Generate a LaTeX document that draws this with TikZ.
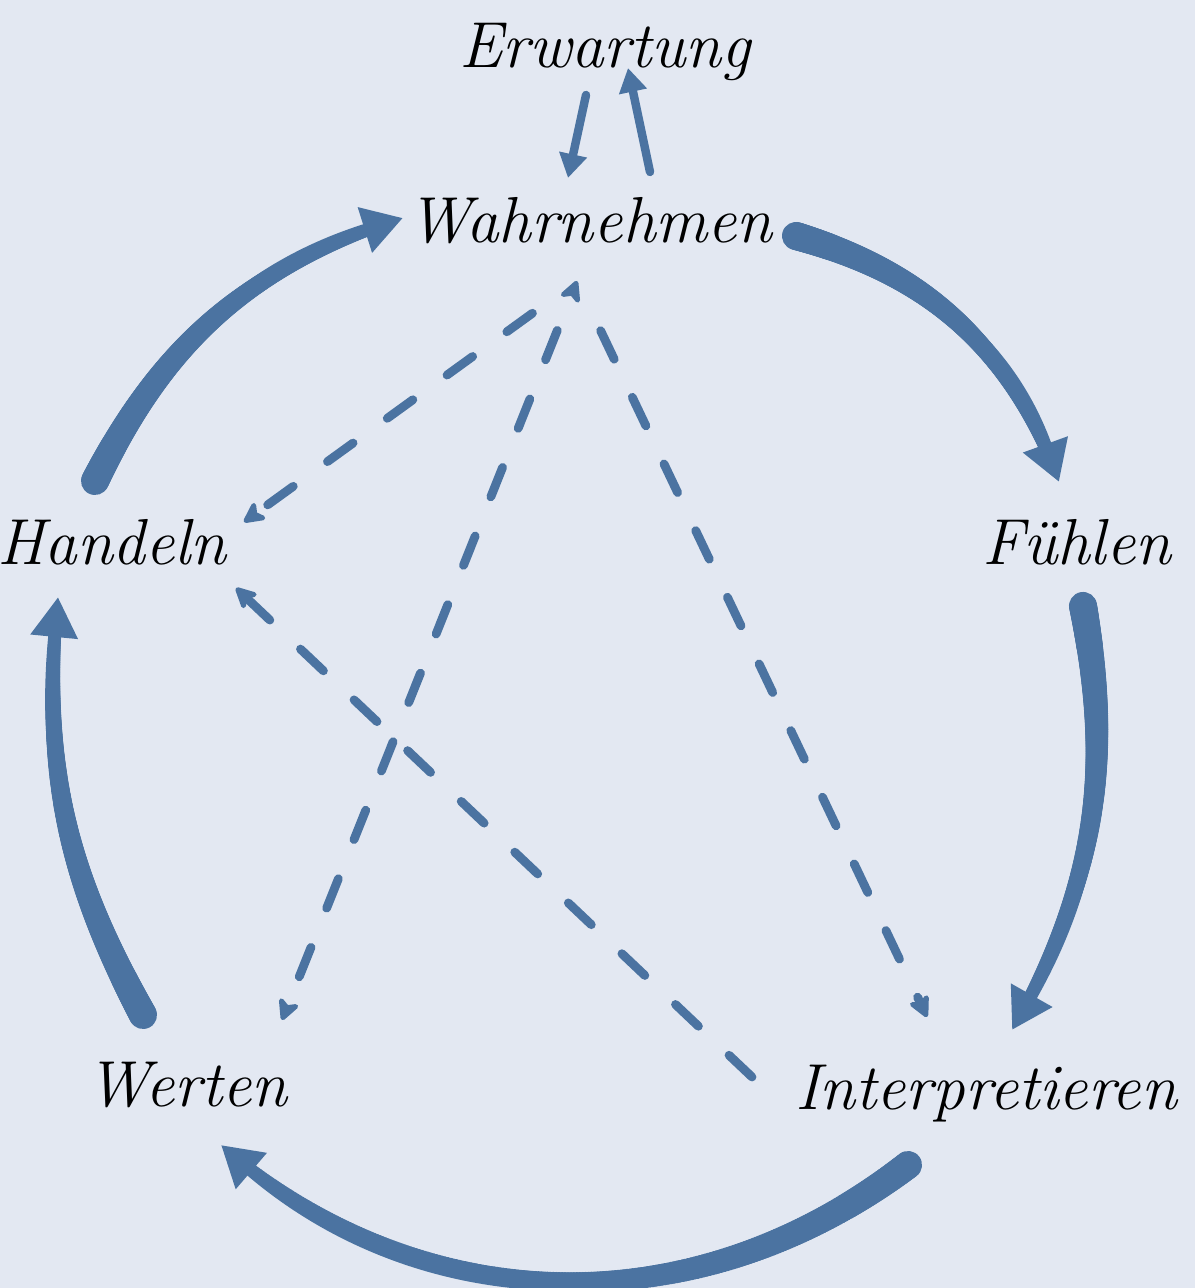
\documentclass[tikz,border=0pt]{standalone}
\usepackage{fontspec}
\usepackage{tikz}
\usepackage{xcolor}
\usetikzlibrary{positioning, arrows.meta, calc, decorations.markings}
\definecolor{paper}{HTML}{E3E8F2}
\definecolor{flow}{HTML}{4B73A1}
\definecolor{ink}{HTML}{000000}

\begin{document}
\begin{tikzpicture}[font=\fontsize{18.5}{22}\selectfont\itshape,
  >={Stealth[length=2.6mm, width=2.6mm, inset=0.7mm, round]},
  lbl/.style={anchor=base, inner sep=0pt, text=ink},
  link/.style={flow, line width=2.5pt, line cap=round, dash pattern=on 9pt off 12pt, ->},
  cue/.style={flow, line width=2.4pt, line cap=round, -{Triangle[length=2.4mm, width=2.7mm]}},
  taper/.style={flow, line width=3.4pt, -{Triangle[length=4mm, width=4.5mm]},
    postaction={decoration={markings,
      mark=between positions 0 and 0.95 step 0.004 with {
        \pgfmathsetmacro\rr{4-2.3*\pgfkeysvalueof{/pgf/decoration/mark info/sequence number}/238}
        \fill[flow] (0,0) circle[radius=\rr pt];}},
    decorate}}
]
  % background, fixes the page size
  \fill[paper] (0,0) rectangle (11.95,12.88);
  \useasboundingbox (0,0) rectangle (11.95,12.88);

  \node[lbl] (erw)    at (6.05,12.20) {Erwartung};
  \node[lbl] (wahr)   at (5.90,10.45) {Wahrnehmen};
  \node[lbl] (fuehl)  at (10.77,7.23) {Fühlen};
  \node[lbl] (hand)   at (1.12,7.23)  {Handeln};
  \node[lbl] (wert)   at (1.87,1.81)  {Werten};
  \node[lbl] (interp) at (9.86,1.78)  {Interpretieren};

  \coordinate (hub) at ([shift={(-0.13,-0.38)}]wahr.base);

  % Erwartung <-> Wahrnehmen
  \draw[cue] ([shift={(-0.19,-0.27)}]erw.base) -- ([shift={(-0.22,0.65)}]wahr.base);
  \draw[cue] ([shift={(0.60,0.71)}]wahr.base) -- ([shift={(0.23,0.0)}]erw.base);

  % main cycle
  \draw[taper] ([shift={(2.06,0.07)}]wahr.base) to[bend left=27] ([shift={(-0.18,0.83)}]fuehl.base);
  \draw[taper] ([shift={(0.06,-0.41)}]fuehl.base) to[bend left=20] ([shift={(0.26,0.80)}]interp.base);
  \draw[taper] ([shift={(-0.78,-0.55)}]interp.base) to[bend left=39] ([shift={(0.34,-0.38)}]wert.base);
  \draw[taper] ([shift={(-0.44,0.92)}]wert.base) to[bend left=17] ([shift={(-0.54,-0.32)}]hand.base);
  \draw[taper] ([shift={(-0.17,0.84)}]hand.base) to[bend left=23] ([shift={(-1.87,0.25)}]wahr.base);

  % dashed shortcuts
  \draw[link, shorten <=0.55cm] (hub) -- ([shift={(1.32,0.43)}]hand.base);
  \draw[link, <->, dash phase=10pt] (hub) -- ([shift={(0.95,0.87)}]wert.base);
  \draw[link, shorten <=0.55cm] (hub) -- ([shift={(-0.59,0.93)}]interp.base);
  \draw[link] ([shift={(-2.34,0.33)}]interp.base) -- ([shift={(1.24,-0.23)}]hand.base);
\end{tikzpicture}
\end{document}
